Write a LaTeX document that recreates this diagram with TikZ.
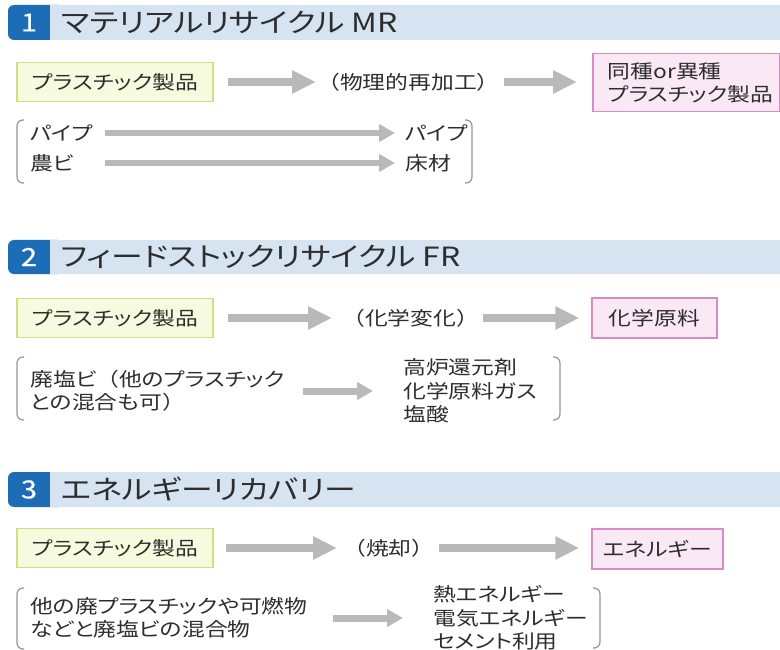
\documentclass[tikz,border=0pt]{standalone}
\usepackage{fontspec}
\setmainfont{Noto Sans CJK JP}[FakeStretch=1.2,RawFeature=+palt]
\newfontfamily\fullw{Noto Sans CJK JP}[FakeStretch=1.2]
\newfontfamily\numfont{Noto Sans CJK JP}[FakeStretch=1.15,FakeBold=0.6]
\usetikzlibrary{arrows.meta}
\definecolor{bandblue}{RGB}{214,228,242}
\definecolor{badgeblue}{RGB}{28,108,182}
\definecolor{txtgray}{RGB}{45,45,45}
\definecolor{arrgray}{RGB}{185,185,185}
\definecolor{brkgray}{RGB}{150,150,150}
\definecolor{gfill}{RGB}{246,250,222}
\definecolor{gdraw}{RGB}{208,224,128}
\definecolor{pfill}{RGB}{250,232,245}
\definecolor{pdraw}{RGB}{215,140,195}
\newcommand{\bodyfs}{\fontsize{19}{23.5}\selectfont}
\newcommand{\titlefs}{\fontsize{26.5}{30}\selectfont}
\begin{document}
\begin{tikzpicture}[x=1pt,y=-1pt,
  txt/.style={inner sep=0pt, text=txtgray, font=\bodyfs},
  gbox/.style={txt, draw=gdraw, fill=gfill, line width=1.5pt, minimum width=196pt, minimum height=39pt},
  pbox/.style={txt, draw=pdraw, fill=pfill, line width=1.5pt, minimum height=40pt},
  ttl/.style={inner sep=0pt, anchor=west, text=txtgray, font=\titlefs},
  num/.style={inner sep=0pt, text=white, font=\numfont\fontsize{25}{28}\selectfont},
  bigarr/.style={draw=arrgray, line width=8pt, -{Triangle[length=24pt,width=22pt]}},
  smallarr/.style={draw=arrgray, line width=6pt, -{Triangle[length=16pt,width=17pt]}},
  brk/.style={draw=brkgray, line width=1.2pt, rounded corners=6pt},
  band/.style={fill=bandblue},
  badge/.style={fill=badgeblue, rounded corners=6pt}
]
\useasboundingbox (0,0) rectangle (780,650);

% ===== Section 1 =====
\fill[badge] (8,5) rectangle (64,40);
\fill[band] (50,5) rectangle (780,40);
\node[num] (n1) at (29,22.5) {1};
\node[ttl] (t1) at (61,22.5) {マテリアルリサイクル MR};

\node[gbox] (g1) at (115,82) {プラスチック製品};
\node[txt, anchor=west, font=\fullw\bodyfs] (l1) at (317,82) {（物理的再加工）};
\node[pbox, anchor=north west, text width=157pt, minimum height=58pt, inner xsep=15pt, align=left] (p1) at (592,53) {同種or異種\\プラスチック製品};
\draw[bigarr, shorten <=14pt, shorten >=1pt] (g1.east) -- (l1.west);
\draw[bigarr, shorten <=4pt, shorten >=15pt] (l1.east) -- (p1.west |- l1.east);

\node[txt, anchor=west, text width=75pt, align=left] (a1) at (30,133) {パイプ};
\node[txt, anchor=west, text width=75pt, align=left] (a2) at (30,163) {農ビ};
\node[txt, anchor=west, text width=60pt, align=left] (b1) at (405,133) {パイプ};
\node[txt, anchor=west, text width=60pt, align=left] (b2) at (405,163) {床材};
\draw[smallarr, shorten >=10pt] (a1.east) -- (b1.west);
\draw[smallarr, shorten >=10pt] (a2.east) -- (b2.west);
\draw[brk] (24,120) -- (17,120) -- (17,183) -- (24,183);
\draw[brk] (465,120) -- (472,120) -- (472,183) -- (465,183);

% ===== Section 2 =====
\fill[badge] (8,240) rectangle (64,274);
\fill[band] (50,240) rectangle (780,274);
\node[num] (n2) at (29,257) {2};
\node[ttl] (t2) at (61,257) {フィードストックリサイクル FR};

\node[gbox] (g2) at (115,318) {プラスチック製品};
\node[txt, anchor=west, font=\fullw\bodyfs] (l2) at (342,318) {（化学変化）};
\node[pbox, minimum width=125pt] (p2) at (654.5,318) {化学原料};
\draw[bigarr, shorten <=14pt, shorten >=10pt] (g2.east) -- (l2.west);
\draw[bigarr, shorten <=4pt, shorten >=12pt] (l2.east) -- (p2.west);

\node[txt, anchor=west, text width=273pt, align=left] (c1) at (30,391) {廃塩ビ{\fullw（}他のプラスチック\\との混合も可{\fullw）}};
\node[txt, anchor=west, text width=150pt, align=left] (d1) at (403,391) {高炉還元剤\\化学原料ガス\\塩酸};
\draw[smallarr, line width=7pt, shorten >=30pt] (c1.east) -- (d1.west);
\draw[brk] (24,357) -- (17,357) -- (17,420) -- (24,420);
\draw[brk] (553,357) -- (560,357) -- (560,420) -- (553,420);

% ===== Section 3 =====
\fill[badge] (8,472) rectangle (64,507);
\fill[band] (50,472) rectangle (780,507);
\node[num] (n3) at (29,489.5) {3};
\node[ttl] (t3) at (61,489.5) {エネルギーリカバリー};

\node[gbox] (g3) at (115,548) {プラスチック製品};
\node[txt, anchor=west, font=\fullw\bodyfs] (l3) at (343,548) {（焼却）};
\node[pbox, minimum width=131pt] (p3) at (657.5,549) {エネルギー};
\draw[bigarr, shorten <=12pt, shorten >=6pt] (g3.east) -- (l3.west);
\draw[bigarr, shorten <=4pt, shorten >=12pt] (l3.east) -- (p3.west |- l3.east);

\node[txt, anchor=west, text width=303pt, align=left] (e1) at (30,618) {他の廃プラスチックや可燃物\\などと廃塩ビの混合物};
\node[txt, anchor=west, text width=160pt, align=left] (f1) at (433,618) {熱エネルギー\\電気エネルギー\\セメント利用};
\draw[smallarr, line width=7pt, shorten >=30pt] (e1.east) -- (f1.west);
\draw[brk] (24,588) -- (17,588) -- (17,649) -- (24,649);
\draw[brk] (593,588) -- (600,588) -- (600,648) -- (593,648);
\end{tikzpicture}
\end{document}
